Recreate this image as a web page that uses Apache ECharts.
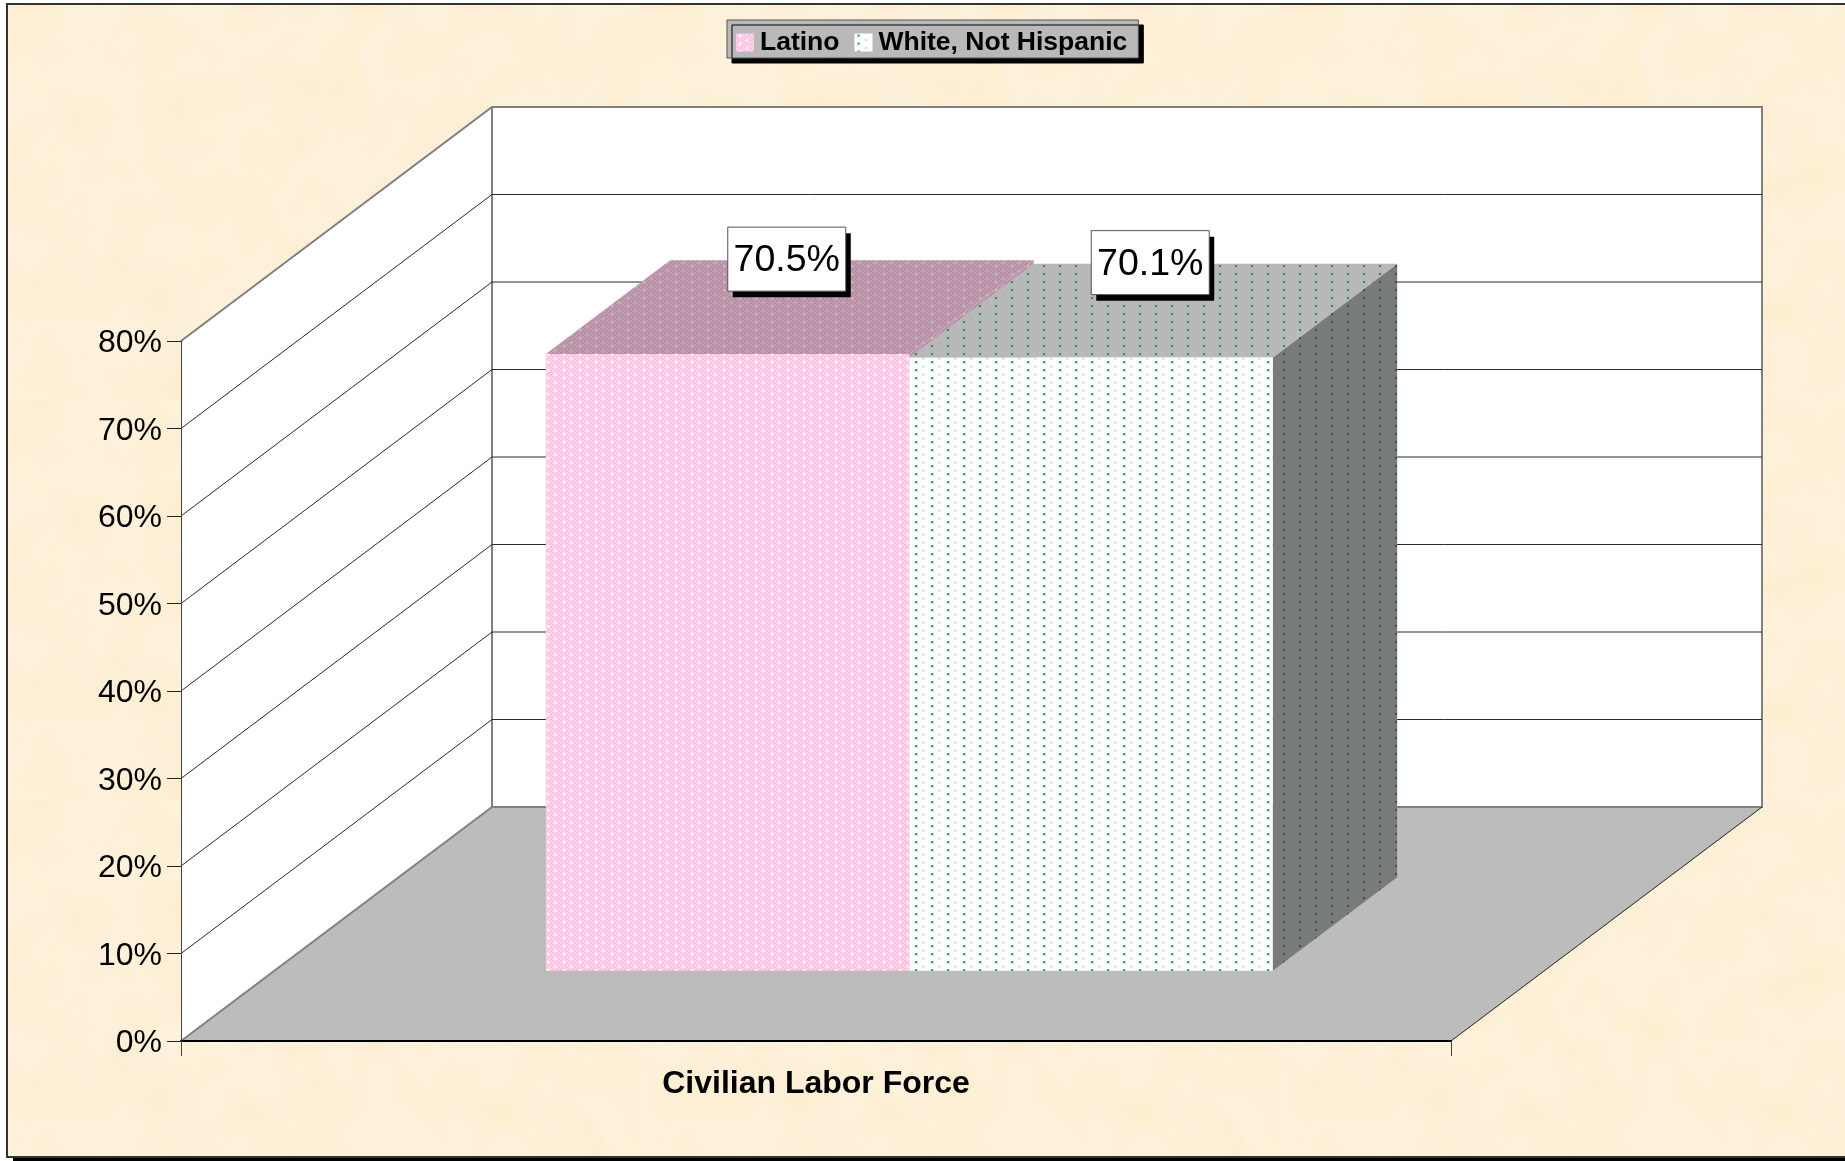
<!DOCTYPE html>
<html>
<head>
<meta charset="utf-8">
<title>Civilian Labor Force</title>
<script src="https://cdn.jsdelivr.net/npm/echarts@6/dist/echarts.min.js"></script>
<style>
  html, body { margin: 0; padding: 0; background: #fff; overflow: hidden; }
  #main { width: 1845px; height: 1161px; }
</style>
</head>
<body>
<div id="main"></div>
<script>
var categories = ["Civilian Labor Force"];
var latinoValues = [70.5];
var whiteValues = [70.1];
var tickValues = [0, 10, 20, 30, 40, 50, 60, 70, 80];

var FONT = '"Liberation Sans", Arial, sans-serif';
// 3d look: how far the back wall sits from the front plane, in px
var DEPTH_X = 311;
var DEPTH_Y = 234;
var BAR_FRONT = 0.3;
var BAR_BACK = 0.7;
var BAR_SPAN = 0.5724;

function shift(p, d) {
  return [p[0] + DEPTH_X * d, p[1] - DEPTH_Y * d];
}

// dithered fill with two staggered dots, like the old office pattern fills
function tile(c1, c2, halo1, core1, halo2, core2) {
  var c = document.createElement("canvas");
  c.width = 16;
  c.height = 8;
  var g = c.getContext("2d");
  for (var y = 0; y < 8; y += 2) {
    for (var x = 0; x < 16; x += 2) {
      g.fillStyle = (x + y) % 4 == 0 ? c1 : c2;
      g.fillRect(x, y, 2, 2);
    }
  }
  g.fillStyle = halo1;
  g.fillRect(3, 1, 3, 3);
  g.fillStyle = core1;
  g.fillRect(3, 1, 2, 2);
  g.fillStyle = halo2;
  g.fillRect(10, 5, 3, 3);
  g.fillStyle = core2;
  g.fillRect(11, 6, 1, 1);
  return { image: c, repeat: "repeat" };
}

// parchment background, fixed seed
function paper() {
  var w = 640, h = 400;
  var c = document.createElement("canvas");
  c.width = w;
  c.height = h;
  var g = c.getContext("2d");
  g.fillStyle = "#fdf1d8";
  g.fillRect(0, 0, w, h);
  var seed = 12345;
  function next() {
    seed = (seed * 1103515245 + 12345) % 2147483648;
    return seed / 2147483648;
  }
  var colors = ["rgba(250,232,190,0.2)", "rgba(255,243,226,0.35)", "rgba(252,236,205,0.25)", "rgba(255,238,225,0.2)"];
  for (var i = 0; i < 900; i++) {
    var x = next() * w, y = next() * h, r = 6 + next() * 26;
    var color = colors[Math.floor(next() * colors.length)];
    var rg = g.createRadialGradient(x, y, 0, x, y, r);
    rg.addColorStop(0, color);
    rg.addColorStop(1, color.replace(/[\d.]+\)$/, "0)"));
    g.fillStyle = rg;
    g.fillRect(x - r, y - r, r * 2, r * 2);
  }
  return { image: c, repeat: "repeat" };
}

var pinkFront = tile("#ffbfe0", "#ffd4ec", "#ffe4f3", "#ffffff", "#ffe4f3", "#ffffff");
var pinkTop = tile("#b78ea6", "#c29bb1", "#bba6b2", "#c0c0c0", "#bba6b2", "#c0c0c0");
var greenFront = tile("#ffffff", "#ffffff", "#c8e8da", "#3f9a72", "#e2f4ec", "#9fd6bf");
var greenTop = tile("#b9b9b9", "#b9b9b9", "#a5b9ae", "#2f8a66", "#afbdb6", "#86ad9a");
var greenSide = tile("#7a7a7a", "#7a7a7a", "#6a7f75", "#1f5f48", "#72827a", "#4f7d6c");

// floor and walls, drawn once
function renderWalls(params, api) {
  var a = api.coord([0, 0]);
  var size = api.size([1, 0])[0];
  var l0 = [a[0] - size / 2, a[1]];
  var r0 = [a[0] + size / 2, a[1]];
  var lt = [l0[0], api.coord([0, 80])[1]];
  var l1 = shift(l0, 1), r1 = shift(r0, 1), lt1 = shift(lt, 1);
  var rt1 = [r1[0], lt1[1]];
  return {
    type: "group",
    children: [
      { type: "polygon", shape: { points: [l0, lt, lt1, l1] }, style: { fill: "#fff", stroke: null } },
      { type: "polygon", shape: { points: [l1, lt1, rt1, r1] }, style: { fill: "#fff", stroke: null } },
      { type: "polygon", shape: { points: [l0, l1, r1, r0] }, style: { fill: "#bcbcbc", stroke: null } },
      { type: "polyline", shape: { points: [lt, lt1, rt1, r1, l1] }, style: { fill: "none", stroke: "#808080", lineWidth: 2 } },
      { type: "line", shape: { x1: l1[0], y1: l1[1], x2: lt1[0], y2: lt1[1] }, style: { stroke: "#808080", lineWidth: 2 } },
      { type: "line", shape: { x1: l0[0], y1: l0[1], x2: l1[0], y2: l1[1] }, style: { stroke: "#808080", lineWidth: 2 } },
      { type: "line", shape: { x1: r0[0], y1: r0[1], x2: r1[0], y2: r1[1] }, style: { stroke: "#222", lineWidth: 1 } }
    ]
  };
}

function renderGridLine(params, api) {
  var v = api.value(1);
  if (v == 0 || v == 80) return;
  var a = api.coord([0, v]);
  var size = api.size([1, 0])[0];
  var p0 = [a[0] - size / 2, a[1]];
  var p1 = shift(p0, 1);
  var p2 = [p0[0] + size + DEPTH_X, p1[1]];
  return {
    type: "polyline",
    shape: { points: [p0, p1, p2] },
    style: { fill: "none", stroke: "#2a2a2a", lineWidth: 1 }
  };
}

function makeBar(slot, front, top, side) {
  return function (params, api) {
    var a = api.coord([api.value(0), 0]);
    var b = api.coord([api.value(0), api.value(1)]);
    var bw = api.size([1, 0])[0] * BAR_SPAN / 2;
    var x0 = a[0] - bw + slot * bw;
    var x1 = x0 + bw;
    var fbl = shift([x0, a[1]], BAR_FRONT), fbr = shift([x1, a[1]], BAR_FRONT);
    var ftl = shift([x0, b[1]], BAR_FRONT), ftr = shift([x1, b[1]], BAR_FRONT);
    var btl = shift([x0, b[1]], BAR_BACK), btr = shift([x1, b[1]], BAR_BACK);
    var bbr = shift([x1, a[1]], BAR_BACK);
    return {
      type: "group",
      children: [
        { type: "polygon", shape: { points: [ftr, btr, bbr, fbr] }, style: { fill: side } },
        { type: "polygon", shape: { points: [ftl, btl, btr, ftr] }, style: { fill: top } },
        { type: "polygon", shape: { points: [fbl, ftl, ftr, fbr] }, style: { fill: front } }
      ]
    };
  };
}

// data label with the hard black shadow
function makeLabel(slot) {
  return function (params, api) {
    var a = api.coord([api.value(0), api.value(1)]);
    var bw = api.size([1, 0])[0] * BAR_SPAN / 2;
    var cx = a[0] - bw + slot * bw + bw / 2;
    var mid = (BAR_FRONT + BAR_BACK) / 2;
    var c = shift([cx, a[1]], mid);
    var x = c[0] - 62, y = c[1] - 80;
    return {
      type: "group",
      children: [
        { type: "rect", shape: { x: x + 5, y: y + 6, width: 118, height: 64 }, style: { fill: "#000" } },
        { type: "rect", shape: { x: x, y: y, width: 118, height: 64 }, style: { fill: "#fff", stroke: "#555", lineWidth: 1 } },
        {
          type: "text",
          style: {
            x: x + 59, y: y + 34,
            text: api.value(1).toFixed(1) + "%",
            fill: "#000",
            font: "37.5px " + FONT,
            align: "center",
            verticalAlign: "middle"
          }
        }
      ]
    };
  };
}

var gridLineData = tickValues.map(function (v) { return [0, v]; });

var option = {
  animation: false,
  backgroundColor: "#fff",
  graphic: [
    { type: "rect", z: -20, silent: true, shape: { x: 13, y: 10, width: 1900, height: 1153 }, style: { fill: "#000" } },
    { type: "rect", z: -19, silent: true, shape: { x: 7, y: 4, width: 1900, height: 1153 }, style: { fill: paper(), stroke: "#333", lineWidth: 2 } }
  ],
  legend: {
    left: 727,
    top: 20,
    padding: [9, 11, 2, 9],
    itemWidth: 18,
    itemHeight: 18,
    itemGap: 15,
    icon: "rect",
    backgroundColor: "#b9b9b9",
    borderColor: "#555",
    borderWidth: 1,
    shadowColor: "#000",
    shadowBlur: 0,
    shadowOffsetX: 5,
    shadowOffsetY: 5,
    data: ["Latino", "White, Not Hispanic"],
    selectedMode: false,
    textStyle: { fontFamily: FONT, fontWeight: "bold", fontSize: 26.5, color: "#000", padding: [0, 0, 0, 1] }
  },
  grid: { left: 181, top: 341, width: 1270, height: 700 },
  xAxis: {
    type: "category",
    data: categories,
    z: 5,
    axisLine: { lineStyle: { color: "#000", width: 2 } },
    axisTick: { show: true, length: 15, lineStyle: { color: "#444", width: 1 } },
    axisLabel: { margin: 27, fontFamily: FONT, fontWeight: "bold", fontSize: 32, color: "#000" }
  },
  yAxis: {
    type: "value",
    min: 0,
    max: 80,
    interval: 10,
    z: 5,
    splitLine: { show: false },
    axisLine: { show: true, lineStyle: { color: "#444", width: 1 } },
    axisTick: { show: true, length: 14, lineStyle: { color: "#222", width: 1 } },
    axisLabel: {
      margin: 19,
      verticalAlign: "top",
      lineHeight: 5, // nudges the text a little under the tick
      fontFamily: FONT,
      fontSize: 32,
      color: "#000",
      formatter: function (v) { return v + "%"; }
    }
  },
  series: [
    { type: "custom", name: "walls", z: 1, silent: true, renderItem: renderWalls, data: [[0, 0]] },
    { type: "custom", name: "gridlines", z: 2, silent: true, renderItem: renderGridLine, data: gridLineData },
    {
      type: "custom", name: "Latino", z: 3, silent: true,
      renderItem: makeBar(0, pinkFront, pinkTop, pinkTop),
      itemStyle: { color: pinkFront },
      data: latinoValues.map(function (v, i) { return [i, v]; })
    },
    {
      type: "custom", name: "White, Not Hispanic", z: 4, silent: true,
      renderItem: makeBar(1, greenFront, greenTop, greenSide),
      itemStyle: { color: greenFront },
      data: whiteValues.map(function (v, i) { return [i, v]; })
    },
    { type: "custom", z: 6, silent: true, renderItem: makeLabel(0), data: latinoValues.map(function (v, i) { return [i, v]; }) },
    { type: "custom", z: 6, silent: true, renderItem: makeLabel(1), data: whiteValues.map(function (v, i) { return [i, v]; }) }
  ]
};

var myChart = echarts.init(document.getElementById("main"));
myChart.setOption(option);
</script>
</body>
</html>
